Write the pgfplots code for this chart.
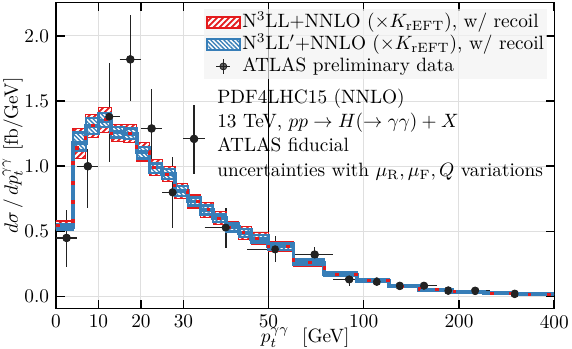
\documentclass[border=0pt]{standalone}
\usepackage{pgfplots}
\pgfplotsset{compat=1.18}
\usepackage{pgfplotstable}
\usepgfplotslibrary{fillbetween}
\usetikzlibrary{patterns.meta}

\definecolor{rred}{RGB}{228,26,28}
\definecolor{bblue}{RGB}{55,126,184}
\definecolor{dgray}{RGB}{34,34,34}

% theory: bin left edge, N3LL (r) and N3LL' (b): central, low, high
\pgfplotstableread{
x    rc     rlo    rhi    bc     blo    bhi
0    0.545  0.51   0.58   0.535  0.515  0.555
4    1.14   1.06   1.29   1.18   1.12   1.26
7    1.31   1.22   1.40   1.31   1.25   1.37
10   1.36   1.26   1.45   1.35   1.30   1.41
13   1.25   1.19   1.32   1.26   1.22   1.30
16   1.25   1.18   1.32   1.25   1.21   1.29
19   1.11   1.04   1.18   1.11   1.06   1.15
22   0.99   0.93   1.05   0.99   0.95   1.02
25   0.94   0.88   1.00   0.94   0.90   0.98
28   0.81   0.755  0.87   0.81   0.77   0.85
31   0.73   0.68   0.78   0.73   0.70   0.76
34   0.665  0.61   0.72   0.665  0.63   0.70
37   0.60   0.55   0.65   0.60   0.57   0.63
40   0.53   0.49   0.575  0.535  0.50   0.56
43   0.49   0.435  0.54   0.49   0.455  0.52
46   0.445  0.40   0.49   0.445  0.415  0.47
50   0.385  0.345  0.42   0.385  0.355  0.41
60   0.26   0.235  0.29   0.26   0.24   0.285
75   0.17   0.155  0.19   0.17   0.158  0.185
95   0.12   0.108  0.132  0.12   0.11   0.13
120  0.078  0.07   0.087  0.078  0.071  0.085
150  0.052  0.046  0.058  0.052  0.047  0.057
190  0.036  0.032  0.040  0.036  0.033  0.039
240  0.026  0.023  0.029  0.026  0.024  0.028
300  0.019  0.017  0.021  0.019  0.017  0.021
400  0.019  0.017  0.021  0.019  0.017  0.021
}\theory

% ATLAS preliminary: bin centre, value, errors up/down
\pgfplotstableread{
x     y      ep     em
2.5   0.45   0.215  0.22
7.5   1.00   0.13   0.32
12.5  1.38   0.41   0.35
17.5  1.82   0.34   0.32
22.5  1.29   0.30   0.30
27.5  0.80   0.27   0.27
32.5  1.21   0.26   0.27
40    0.53   0.15   0.16
52.5  0.364  0.10   0.10
70    0.322  0.06   0.05
90    0.133  0.045  0.05
110   0.115  0.025  0.025
130   0.082  0.02   0.02
155   0.082  0.015  0.015
185   0.046  0.01   0.01
225   0.044  0.01   0.01
300   0.021  0.006  0.006
}\atlas

% ATLAS bin widths (horizontal bars)
\pgfplotstableread{
x    y
0    0.45
5    0.45
5    nan
5    1.00
10   1.00
10   nan
10   1.38
15   1.38
15   nan
15   1.82
20   1.82
20   nan
20   1.29
25   1.29
25   nan
25   0.80
30   0.80
30   nan
30   1.21
35   1.21
35   nan
35   0.53
45   0.53
45   nan
45   0.364
60   0.364
60   nan
60   0.322
80   0.322
80   nan
80   0.133
100  0.133
100  nan
100  0.115
120  0.115
120  nan
120  0.082
140  0.082
140  nan
140  0.082
170  0.082
170  nan
170  0.046
200  0.046
200  nan
200  0.044
250  0.044
250  nan
250  0.021
350  0.021
}\atlasx

\begin{document}
\begin{tikzpicture}
\begin{axis}[
  set layers,
  clip mode=individual,
  scale only axis,
  width=258.2pt, height=158.3pt,
  x coord trafo/.code={\pgfmathparse{#1<=50 ? #1 : 50+32.35*ln(max(#1,1)/50)}},
  xmin=0, xmax=400,
  ymin=-0.089, ymax=2.255,
  xtick={0,10,20,30,100,200,400},
  xticklabels={0,10,20,30,100,200,400},
  extra x ticks={50},
  extra x tick labels={50},
  extra x tick style={major grid style={black, line width=0.5pt}},
  ytick={0,0.5,1,1.5,2},
  yticklabel style={/pgf/number format/.cd, fixed, fixed zerofill, precision=1},
  grid=major,
  major grid style={gray!25, line width=0.5pt},
  axis line style={line width=0.7pt},
  major tick length=4.5pt,
  every tick/.style={black, line width=0.8pt},
  unbounded coords=jump,
  legend style={at={(rel axis cs:0.987,0.979)}, anchor=north east,
    draw=none, fill=gray!10, fill opacity=0.7, text opacity=1,
    inner sep=1pt, row sep=0pt,
    nodes={inner sep=0.7pt, text height=7.5pt, text depth=2.5pt},
    /tikz/every even column/.append style={column sep=5pt}},
  legend cell align=left,
]

% ATLAS error bars, beneath the bands
\addplot[forget plot, on layer=pre main, dgray, line width=0.6pt] table[x=x, y=y] {\atlasx};
\addplot[forget plot, on layer=pre main, only marks, mark=none, draw=dgray,
  error bars/.cd, y dir=both, y explicit,
  error mark=none, error bar style={dgray, line width=0.6pt}]
  table[x=x, y=y, y error plus=ep, y error minus=em] {\atlas};

% N3LL+NNLO band
\addplot[forget plot, name path=rhi, const plot, rred, line width=0.6pt] table[x=x, y=rhi] {\theory};
\addplot[forget plot, name path=rlo, const plot, rred, line width=0.6pt] table[x=x, y=rlo] {\theory};
\addplot[forget plot, on layer=pre main, draw=none, preaction={fill=white},
  pattern={Lines[angle=45, distance=2.2pt, line width=0.9pt]}, pattern color=rred]
  fill between[of=rhi and rlo];

% N3LL'+NNLO band
\addplot[forget plot, name path=bhi, const plot, bblue, line width=1.2pt] table[x=x, y=bhi] {\theory};
\addplot[forget plot, name path=blo, const plot, bblue, line width=1.2pt] table[x=x, y=blo] {\theory};
\addplot[forget plot, on layer=pre main, draw=none, preaction={fill=white},
  pattern={Lines[angle=-45, distance=1.6pt, line width=0.7pt]}, pattern color=bblue]
  fill between[of=bhi and blo];

% central values
\addplot[forget plot, const plot, bblue, line width=2pt] table[x=x, y=bc] {\theory};
\addplot[forget plot, const plot, rred, line width=1.6pt, dash pattern=on 2pt off 8pt] table[x=x, y=rc] {\theory};

% ATLAS markers
\addplot[forget plot, only marks, mark=*, mark size=1.8pt, dgray] table[x=x, y=y] {\atlas};

\addlegendimage{area legend, draw=rred, line width=0.7pt, preaction={fill=white},
  pattern={Lines[angle=45, distance=2.2pt, line width=0.9pt]}, pattern color=rred}
\addlegendentry{N$^3$LL+NNLO ($\times K_{\mathrm{rEFT}}$), w/ recoil}
\addlegendimage{area legend, draw=bblue, line width=1.2pt, preaction={fill=white},
  pattern={Lines[angle=-45, distance=1.6pt, line width=0.7pt]}, pattern color=bblue}
\addlegendentry{N$^3$LL$'$+NNLO ($\times K_{\mathrm{rEFT}}$), w/ recoil}
\addlegendimage{legend image code/.code={
  \draw[dgray, line width=0.7pt] (0.3cm,-0.13cm) -- (0.3cm,0.13cm) (0.17cm,0cm) -- (0.43cm,0cm);
  \fill[dgray] (0.3cm,0cm) circle (1.8pt);}}
\addlegendentry{ATLAS preliminary data}

\node[anchor=base west, inner sep=0pt] at (rel axis cs:0.323,0.6685) {PDF4LHC15 (NNLO)};
\node[anchor=base west, inner sep=0pt] at (rel axis cs:0.323,0.590) {13 TeV, $pp \to H(\to \gamma\gamma) + X$};
\node[anchor=base west, inner sep=0pt] at (rel axis cs:0.323,0.5115) {ATLAS fiducial};
\node[anchor=base west, inner sep=0pt] at (rel axis cs:0.323,0.430) {uncertainties with $\mu_{\mathrm{R}}, \mu_{\mathrm{F}}, Q$ variations};

% axis labels
\node[anchor=base, inner sep=0pt, yshift=-17.8pt] at (rel axis cs:0.5,0) {$p_t^{\gamma\gamma}$ \ [GeV]};
\node[anchor=base, inner sep=0pt, rotate=90] at ([xshift=-19.8pt]rel axis cs:0,0.5) {$d\sigma\,/\,dp_t^{\gamma\gamma}$ [fb/GeV]};
\end{axis}
\pgfresetboundingbox
\path (current axis.south west) ++(-29pt,-21.1pt) coordinate (bl);
\path (current axis.north east) ++(9.2pt,1.4pt) coordinate (tr);
\path (bl) rectangle (tr);
\end{tikzpicture}
\end{document}
